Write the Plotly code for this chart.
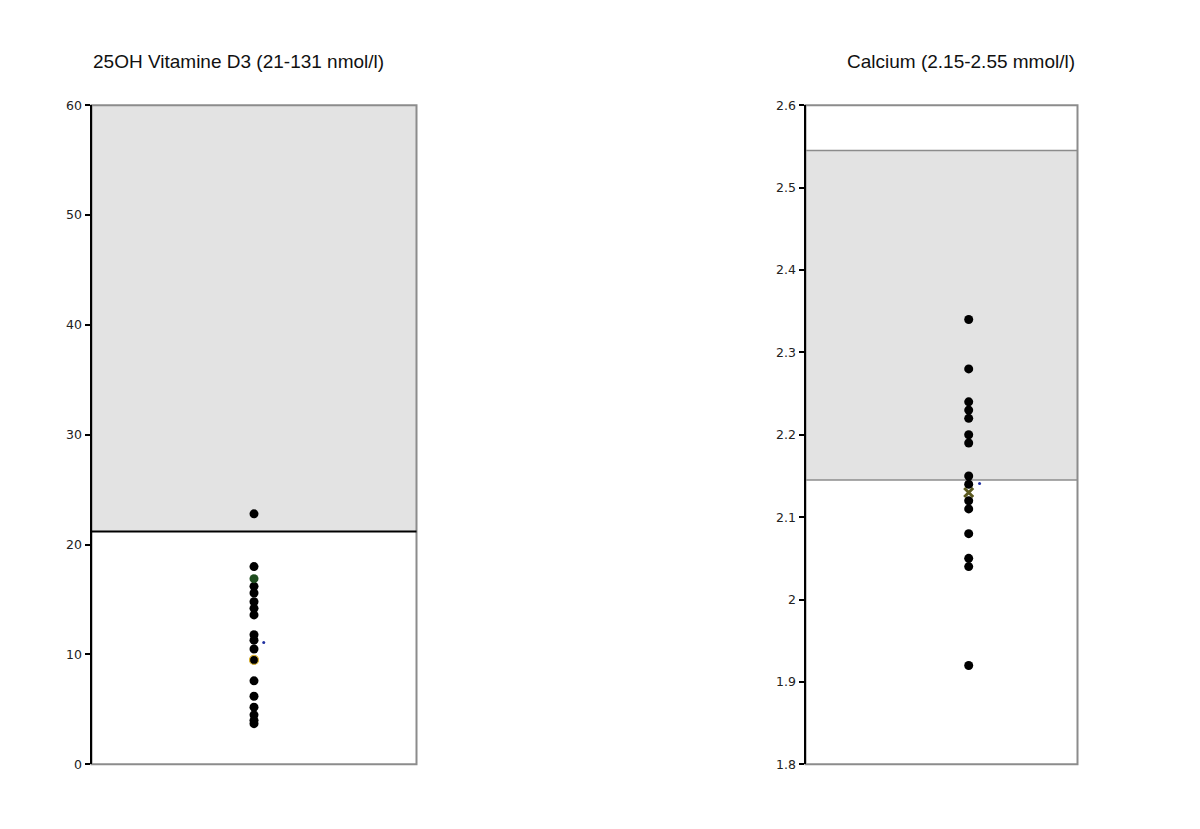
import plotly.graph_objects as go

# ---- data ----
vitd_title = "25OH Vitamine D3 (21-131 nmol/l)"
vitd_values = [22.8, 18.0, 16.2, 15.6, 14.8, 14.2, 13.6, 11.8, 11.3, 10.5, 7.6, 6.2, 5.2, 4.5, 4.0, 3.7]
vitd_green = [16.9]
vitd_yellow = [9.5]
vitd_blue = [11.1]
vitd_ref_low = 21.2
vitd_ref_top = 60
vitd_ticks = [0, 10, 20, 30, 40, 50, 60]
vitd_ticktext = ["0", "10", "20", "30", "40", "50", "60"]

ca_title = "Calcium (2.15-2.55 mmol/l)"
ca_values = [2.34, 2.28, 2.24, 2.23, 2.22, 2.20, 2.19, 2.15, 2.14, 2.12, 2.11, 2.08, 2.05, 2.04, 1.92]
ca_olive = [2.13]
ca_blue = [2.141]
ca_ref_low = 2.145
ca_ref_high = 2.545
ca_ticks = [1.8, 1.9, 2.0, 2.1, 2.2, 2.3, 2.4, 2.5, 2.6]
ca_ticktext = ["1.8", "1.9", "2", "2.1", "2.2", "2.3", "2.4", "2.5", "2.6"]

W, H = 1200, 829


def fx(px):
    return (px - 7.5) / W


def fy(py):
    return (831 - py) / 817.7


y0, y1 = fy(765), fy(103)

fig = go.Figure()


def dots(xa, ya, xs, ys, color, size=9, line=None, symbol="circle"):
    fig.add_trace(go.Scatter(
        x=xs, y=ys, xaxis=xa, yaxis=ya, mode="markers",
        marker=dict(color=color, size=size, symbol=symbol,
                    line=line or dict(width=0)),
        showlegend=False, hoverinfo="y"))


# left panel
dots("x", "y", [0.5] * len(vitd_values), vitd_values, "black")
dots("x", "y", [0.5], vitd_green, "#1f4d1f")
dots("x", "y", [0.5], vitd_yellow, "black", line=dict(color="#d8b030", width=1.2))
dots("x", "y", [0.53], vitd_blue, "#2030a0", size=3)

# right panel
dots("x2", "y2", [0.6] * len(ca_values), ca_values, "black")
dots("x2", "y2", [0.6], ca_olive, "#5c5a20", size=9, symbol="x-thin", line=dict(color="#5c5a20", width=3))
dots("x2", "y2", [0.64], ca_blue, "#2030a0", size=3)

axis_font = dict(family="DejaVu Sans", size=12.5, color="#222")

fig.update_layout(
    width=W, height=H,
    margin=dict(l=0, r=0, t=0, b=0),
    paper_bgcolor="white", plot_bgcolor="white",
    xaxis=dict(domain=[fx(91), fx(416)], range=[0, 1], showticklabels=False,
               showgrid=False, zeroline=False, showline=False, ticks=""),
    yaxis=dict(domain=[y0, y1], range=[0, vitd_ref_top], tickvals=vitd_ticks,
               ticktext=vitd_ticktext, showgrid=False, zeroline=False,
               showline=True, linecolor="black", linewidth=2, ticks="outside",
               ticklen=5, tickcolor="black", tickwidth=1.5, tickfont=axis_font),
    xaxis2=dict(domain=[fx(805), fx(1077)], range=[0, 1], showticklabels=False,
                showgrid=False, zeroline=False, showline=False, ticks="",
                anchor="y2"),
    yaxis2=dict(domain=[y0, y1], range=[1.8, 2.6], tickvals=ca_ticks,
                ticktext=ca_ticktext, showgrid=False, zeroline=False,
                showline=True, linecolor="black", linewidth=2, ticks="outside",
                ticklen=5, tickcolor="black", tickwidth=1.5, tickfont=axis_font,
                anchor="x2"),
)

shapes = [
    dict(type="rect", xref="x domain", yref="y", x0=0, x1=1, y0=vitd_ref_low, y1=vitd_ref_top,
         fillcolor="#e3e3e3", line=dict(width=0), layer="below"),
    dict(type="rect", xref="x2 domain", yref="y2", x0=0, x1=1, y0=ca_ref_low, y1=ca_ref_high,
         fillcolor="#e3e3e3", line=dict(width=0), layer="below"),
    dict(type="rect", xref="x domain", yref="y domain", x0=0, x1=1, y0=0, y1=1,
         line=dict(color="#8c8c8c", width=2), layer="below"),
    dict(type="rect", xref="x2 domain", yref="y2 domain", x0=0, x1=1, y0=0, y1=1,
         line=dict(color="#8c8c8c", width=2), layer="below"),
    dict(type="line", xref="x domain", yref="y", x0=0, x1=1, y0=vitd_ref_low, y1=vitd_ref_low,
         line=dict(color="black", width=2), layer="below"),
    dict(type="line", xref="x2 domain", yref="y2", x0=0, x1=1, y0=ca_ref_low, y1=ca_ref_low,
         line=dict(color="#8c8c8c", width=1.5), layer="below"),
    dict(type="line", xref="x2 domain", yref="y2", x0=0, x1=1, y0=ca_ref_high, y1=ca_ref_high,
         line=dict(color="#8c8c8c", width=1.5), layer="below"),
]
fig.update_layout(shapes=shapes)

title_font = dict(family="Liberation Sans, Arial", size=19, color="#111")
fig.add_annotation(text=vitd_title, xref="paper", yref="paper", x=fx(90), y=fy(59),
                   xanchor="left", yanchor="middle", showarrow=False, font=title_font)
fig.add_annotation(text=ca_title, xref="paper", yref="paper", x=fx(1076), y=fy(59),
                   xanchor="right", yanchor="middle", showarrow=False, font=title_font)

fig.write_html("out.html")
